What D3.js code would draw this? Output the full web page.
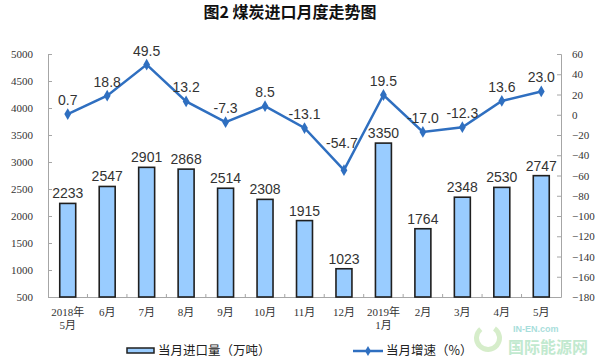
<!DOCTYPE html>
<html><head><meta charset="utf-8">
<script src="https://cdn.jsdelivr.net/npm/d3@7"></script>
<style>body{margin:0;background:#fff}svg{display:block}</style>
</head><body>
<svg id="c" width="600" height="361"></svg>
<script>
const categories = [["2018年","5月"],["6月"],["7月"],["8月"],["9月"],["10月"],["11月"],["12月"],["2019年","1月"],["2月"],["3月"],["4月"],["5月"]];
const imports = [2233,2547,2901,2868,2514,2308,1915,1023,3350,1764,2348,2530,2747];
const growth = [0.7,18.8,49.5,13.2,-7.3,8.5,-13.1,-54.7,19.5,-17.0,-12.3,13.6,23.0];
const growthLabels = ["0.7","18.8","49.5","13.2","-7.3","8.5","-13.1","-54.7","19.5","-17.0","-12.3","13.6","23.0"];
const leftTicks = [500,1000,1500,2000,2500,3000,3500,4000,4500,5000];
const rightTicks = [60,40,20,0,-20,-40,-60,-80,-100,-120,-140,-160,-180];

const svg = d3.select("#c");
const L = 48, R = 561, T = 54, B = 297;
const serif = "'Times New Roman','Liberation Serif','Noto Sans CJK SC',serif";
const sans = "Arial,'Liberation Sans','Noto Sans CJK SC',sans-serif";

const x = d3.scaleBand().domain(d3.range(categories.length)).range([L, R]).paddingInner(0.57).paddingOuter(0.285);
const xc = i => x(i) + x.bandwidth()/2;
const yL = d3.scaleLinear().domain([500,5000]).range([B,T]);
const yR = d3.scaleLinear().domain([-180,60]).range([B,T]);

svg.append("text").attr("x",290).attr("y",18).attr("text-anchor","middle")
  .attr("font-family","'Noto Sans CJK SC',sans-serif").attr("font-weight","bold").attr("font-size",16).attr("fill","#111")
  .text("图2  煤炭进口月度走势图");

// axes
const axisColor = "#a6a6a6";
const gl = svg.append("g").attr("transform",`translate(${L},0)`)
  .call(d3.axisRight(yL).tickValues(leftTicks).tickSize(4).tickFormat(d3.format("d")));
gl.select(".domain").attr("stroke",axisColor);
gl.selectAll(".tick line").attr("stroke",axisColor);
gl.selectAll(".tick text").attr("x",-15).attr("text-anchor","end").attr("font-family",serif).attr("font-size",11).attr("fill","#333");

const gr = svg.append("g").attr("transform",`translate(${R},0)`)
  .call(d3.axisLeft(yR).tickValues(rightTicks).tickSize(4).tickFormat(d3.format("d")));
gr.select(".domain").attr("stroke",axisColor);
gr.selectAll(".tick line").attr("stroke",axisColor);
gr.selectAll(".tick text").attr("x",11).attr("text-anchor","start").attr("font-family",serif).attr("font-size",11).attr("fill","#333");

// bottom axis
svg.append("line").attr("x1",L).attr("x2",R).attr("y1",B+0.5).attr("y2",B+0.5).attr("stroke",axisColor);
svg.append("g").selectAll("line").data(d3.range(1,categories.length)).join("line")
  .attr("x1",i=>x(i)-x.step()*x.paddingInner()/2).attr("x2",i=>x(i)-x.step()*x.paddingInner()/2)
  .attr("y1",B).attr("y2",B-3).attr("stroke",axisColor);

const xl = svg.append("g").selectAll("text").data(categories).join("text")
  .attr("x",(d,i)=>xc(i)).attr("y",316).attr("text-anchor","middle")
  .attr("font-family",serif).attr("font-size",11).attr("fill","#333");
xl.each(function(d){
  const t = d3.select(this);
  d.forEach((s,k)=>t.append("tspan").attr("x",t.attr("x")).attr("dy",k?13:0).text(s));
});

// bars
svg.append("g").selectAll("rect").data(imports).join("rect")
  .attr("x",(d,i)=>x(i)+0.5).attr("y",d=>yL(d)).attr("width",x.bandwidth()-1).attr("height",d=>B-yL(d))
  .attr("fill","#99ccff").attr("stroke","#1f1f1f").attr("stroke-width",1.6);
svg.append("g").selectAll("text").data(imports).join("text")
  .attr("x",(d,i)=>xc(i)).attr("y",d=>yL(d)-5).attr("text-anchor","middle")
  .attr("font-family",sans).attr("font-size",14).attr("fill","#333").text(d=>d);

// line
const lineColor = "#2f6fc0";
svg.append("path").datum(growth)
  .attr("d",d3.line().x((d,i)=>xc(i)).y(d=>yR(d)))
  .attr("fill","none").attr("stroke",lineColor).attr("stroke-width",2.5);
svg.append("g").selectAll("path").data(growth).join("path")
  .attr("transform",(d,i)=>`translate(${xc(i)},${yR(d)})`)
  .attr("d",d3.symbol(d3.symbolDiamond,40)).attr("fill",lineColor);
svg.append("g").selectAll("text").data(growth).join("text")
  .attr("x",(d,i)=>xc(i) - (d===d3.min(growth)?2:0)).attr("y",d=>yR(d)-(d===d3.min(growth)?22:9)).attr("text-anchor","middle")
  .attr("font-family",sans).attr("font-size",14).attr("fill","#333").text((d,i)=>growthLabels[i]);

// legend
svg.append("rect").attr("x",127).attr("y",348).attr("width",27).attr("height",5)
  .attr("fill","#99ccff").attr("stroke","#1f1f1f").attr("stroke-width",1.5);
svg.append("text").attr("x",158).attr("y",355).attr("font-family","'Noto Sans CJK SC',sans-serif").attr("font-size",12.5).attr("fill","#222").text("当月进口量（万吨）");
svg.append("line").attr("x1",353).attr("x2",383).attr("y1",351).attr("y2",351).attr("stroke",lineColor).attr("stroke-width",2.5);
svg.append("path").attr("transform","translate(368,351)").attr("d",d3.symbol(d3.symbolDiamond,30)).attr("fill",lineColor);
svg.append("text").attr("x",386).attr("y",355).attr("font-family","'Noto Sans CJK SC',sans-serif").attr("font-size",12.5).attr("fill","#222").text("当月增速（%）");

// watermark
const wm = svg.append("g").attr("opacity",0.55);
wm.append("path").attr("d",d3.arc()({innerRadius:9,outerRadius:14,startAngle:0.6,endAngle:5.6})).attr("transform","translate(488,338)").attr("fill","#b5e0a0");
wm.append("text").attr("x",513).attr("y",332).attr("font-family",sans).attr("font-weight","bold").attr("font-size",9).attr("fill","#5fc4c0").text("IN-EN.com");
wm.append("text").attr("x",508).attr("y",353).attr("font-family","'Noto Sans CJK SC',sans-serif").attr("font-weight","bold").attr("font-size",16).attr("fill","#8fd8a8").text("国际能源网");
</script>
</body></html>
